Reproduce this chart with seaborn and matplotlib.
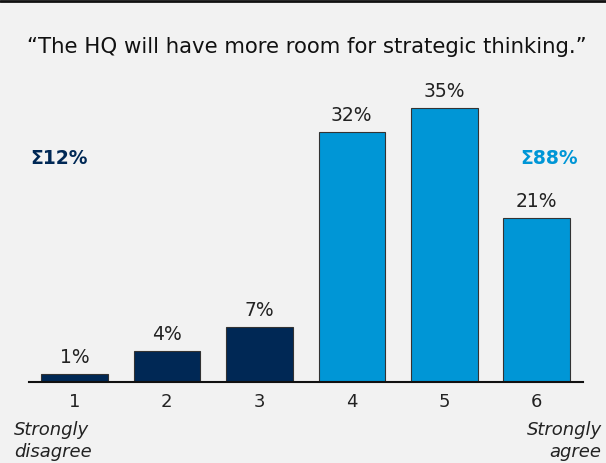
import matplotlib
matplotlib.use("Agg")
import matplotlib.pyplot as plt
import seaborn as sns
import pandas as pd
from matplotlib.lines import Line2D

# survey answers, 1 = strongly disagree ... 6 = strongly agree
categories = ['1', '2', '3', '4', '5', '6']
shares = [1, 4, 7, 32, 35, 21]
side = ['disagree', 'disagree', 'disagree', 'agree', 'agree', 'agree']
title = u"\u201cThe HQ will have more room for strategic thinking.\u201d"
sum_disagree = u"\u03a312%"
sum_agree = u"\u03a388%"

navy = '#002855'
blue = '#0096d6'
bg = '#f2f2f2'

sns.set_theme(style='white')
plt.rcParams['font.family'] = ['DejaVu Sans']

df = pd.DataFrame({'answer': categories, 'share': shares, 'side': side})

fig = plt.figure(figsize=(6.06, 4.63), dpi=100, facecolor=bg)
ax = fig.add_axes([0.048, 0.175, 0.914, 0.676])
ax.set_facecolor(bg)

sns.barplot(data=df, x='answer', y='share', hue='side',
            palette={'disagree': navy, 'agree': blue}, saturation=1,
            dodge=False, width=0.72, edgecolor='#333333', linewidth=0.8,
            legend=False, ax=ax)

for cont in ax.containers:
    ax.bar_label(cont, labels=[f'{v:.0f}%' if v == v else '' for v in cont.datavalues],
                 padding=5, fontsize=13.5, color='#222222')

ax.set_xlim(-0.49, 5.5)
ax.set_ylim(0, 40)
ax.set_xlabel('')
ax.set_ylabel('')
ax.set_yticks([])
ax.tick_params(axis='x', length=0, labelsize=13, pad=8, labelcolor='#222222')
for s in ['top', 'left', 'right']:
    ax.spines[s].set_visible(False)
ax.spines['bottom'].set_color('#111111')
ax.spines['bottom'].set_linewidth(1.5)

fig.text(0.507, 0.898, title, ha='center', va='center', fontsize=15.3, color='#111111')
fig.text(0.05, 0.658, sum_disagree, ha='left', va='center', fontsize=13.5,
         fontweight='bold', color=navy)
fig.text(0.953, 0.658, sum_agree, ha='right', va='center', fontsize=13.5,
         fontweight='bold', color=blue)

fig.text(0.023, 0.048, 'Strongly\ndisagree', ha='left', va='center', fontsize=13,
         style='italic', color='#222222', linespacing=1.25)
fig.text(0.993, 0.048, 'Strongly\nagree', ha='right', va='center', fontsize=13,
         style='italic', color='#222222', linespacing=1.25, multialignment='right')

# dark rule along the top edge
fig.add_artist(Line2D([0, 1], [0.998, 0.998], transform=fig.transFigure,
                      color='#111111', linewidth=2))

fig.savefig('out.png', dpi=100, facecolor=bg)
